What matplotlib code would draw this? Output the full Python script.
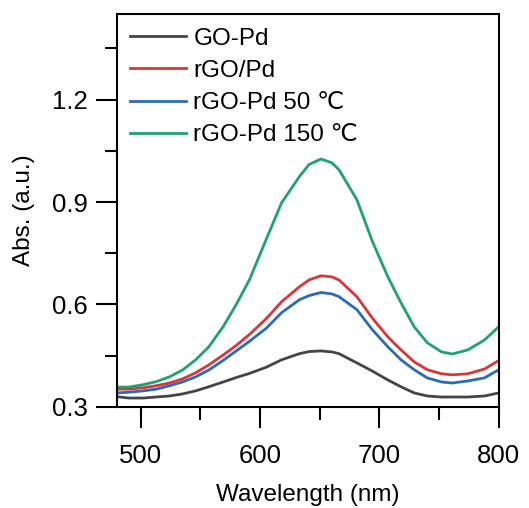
import matplotlib
matplotlib.use("Agg")
import matplotlib.pyplot as plt
from matplotlib.ticker import MultipleLocator, FormatStrFormatter

plt.rcParams['font.family'] = ['Liberation Sans', 'DejaVu Sans']

# wavelength grid (nm)
wavelength = [480, 490, 502, 513, 524, 535, 546, 557, 569, 580, 591, 605, 618, 633, 641,
              651, 660, 666, 681, 694, 707, 718, 729, 740, 752, 761, 774, 788, 800]

go_pd = [0.330, 0.326, 0.326, 0.329, 0.332, 0.338, 0.347, 0.359, 0.373, 0.386, 0.398, 0.416,
         0.438, 0.456, 0.462, 0.464, 0.461, 0.456, 0.429, 0.405, 0.379, 0.359, 0.341, 0.332,
         0.329, 0.329, 0.329, 0.332, 0.341]
rgo_pd = [0.352, 0.352, 0.356, 0.362, 0.370, 0.382, 0.400, 0.423, 0.452, 0.480, 0.512, 0.558,
          0.608, 0.652, 0.672, 0.684, 0.681, 0.672, 0.623, 0.560, 0.505, 0.467, 0.432, 0.409,
          0.397, 0.394, 0.397, 0.411, 0.436]
rgo_50 = [0.341, 0.343, 0.347, 0.352, 0.362, 0.373, 0.388, 0.408, 0.436, 0.464, 0.492, 0.530,
          0.576, 0.614, 0.626, 0.635, 0.631, 0.623, 0.585, 0.526, 0.476, 0.438, 0.409, 0.385,
          0.373, 0.370, 0.376, 0.385, 0.409]
rgo_150 = [0.358, 0.358, 0.365, 0.374, 0.388, 0.408, 0.438, 0.476, 0.535, 0.600, 0.672, 0.790,
           0.898, 0.975, 1.010, 1.026, 1.015, 0.995, 0.907, 0.785, 0.681, 0.605, 0.535, 0.488,
           0.461, 0.455, 0.467, 0.496, 0.535]

labels = ['GO-Pd', 'rGO/Pd', 'rGO-Pd 50 \u2103', 'rGO-Pd 150 \u2103']
colors = ['#454545', '#d8363c', '#2b6bb5', '#20a26c']

fig = plt.figure(figsize=(5.29, 5.08), dpi=100)
ax = fig.add_axes([0.221, 0.199, 0.722, 0.773])

for y, lab, c in zip([go_pd, rgo_pd, rgo_50, rgo_150], labels, colors):
    ax.plot(wavelength, y, color=c, lw=2.0, label=lab)

ax.set_xlim(480, 800)
ax.set_ylim(0.3, 1.45)
ax.xaxis.set_major_locator(MultipleLocator(100))
ax.xaxis.set_minor_locator(MultipleLocator(50))
ax.yaxis.set_major_locator(MultipleLocator(0.3))
ax.yaxis.set_minor_locator(MultipleLocator(0.15))
ax.yaxis.set_major_formatter(FormatStrFormatter('%.1f'))

for s in ax.spines.values():
    s.set_linewidth(1.5)
ax.tick_params(which='major', direction='out', length=15, width=1.5, labelsize=18.5)
ax.tick_params(which='minor', direction='out', length=9, width=1.5)
ax.tick_params(axis='x', which='major', pad=12)
ax.tick_params(axis='y', which='major', pad=6)

ax.set_xlabel('Wavelength (nm)', fontsize=17.5, labelpad=11)
ax.set_ylabel('Abs. (a.u.)', fontsize=17.5, labelpad=12)

ax.legend(loc='upper left', frameon=False, fontsize=17.5, handlelength=2.3,
          handletextpad=0.3, labelspacing=0.42, borderaxespad=0.15,
          bbox_to_anchor=(0.0, 1.0))

fig.savefig('out.png', dpi=100)
